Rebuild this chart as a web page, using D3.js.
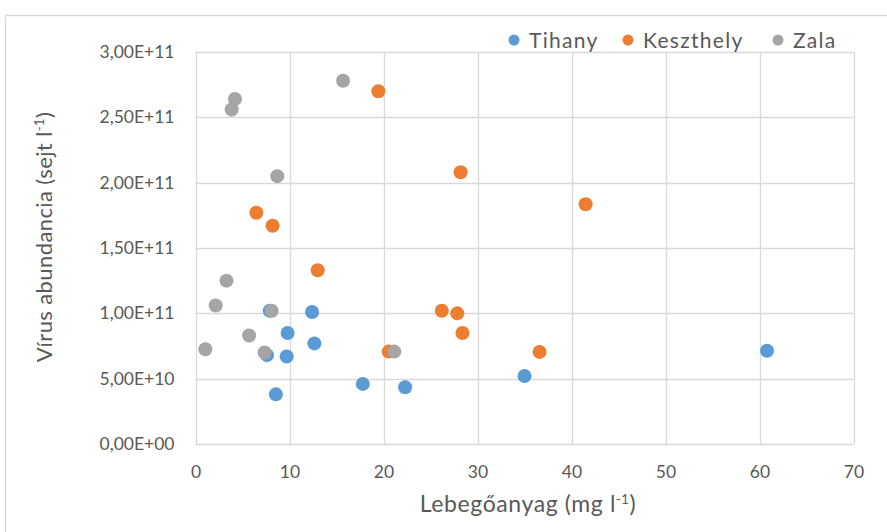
<!DOCTYPE html>
<html>
<head>
<meta charset="utf-8">
<script src="https://cdn.jsdelivr.net/npm/d3@7"></script>
<style>
  body { margin: 0; background: #fff; }
  svg text { font-family: Lato, "Open Sans", sans-serif; fill: #595959; }
</style>
</head>
<body>
<script>
// series names and colours
var seriesNames = ["Tihany", "Keszthely", "Zala"];
var seriesColors = ["#5B9BD5", "#ED7D31", "#A5A5A5"];
// lebegőanyag (mg/l) and virus abundance (sejt/l)
var tihanyX = [7.9, 12.4, 9.8, 12.65, 7.6, 9.7, 17.8, 22.3, 8.55, 35.0, 60.8];
var tihanyY = [1.02e11, 1.01e11, 0.85e11, 0.77e11, 0.68e11, 0.67e11, 0.46e11, 0.434e11, 0.38e11, 0.52e11, 0.714e11];
var keszthelyX = [19.45, 6.47, 8.2, 13.0, 20.55, 28.2, 41.5, 26.2, 27.85, 28.4, 36.6];
var keszthelyY = [2.70e11, 1.77e11, 1.67e11, 1.33e11, 0.707e11, 2.08e11, 1.835e11, 1.02e11, 1.0e11, 0.85e11, 0.705e11];
var zalaX = [4.2, 3.85, 15.7, 8.7, 3.3, 2.15, 8.1, 5.7, 1.05, 7.35, 21.15];
var zalaY = [2.64e11, 2.56e11, 2.78e11, 2.05e11, 1.25e11, 1.06e11, 1.02e11, 0.83e11, 0.725e11, 0.70e11, 0.707e11];
var xTicks = [0, 10, 20, 30, 40, 50, 60, 70];
var yTicks = [0, 0.5e11, 1.0e11, 1.5e11, 2.0e11, 2.5e11, 3.0e11];

var width = 887, height = 532;
var plot = { left: 195.5, right: 853.5, top: 52, bottom: 444 };

var svg = d3.select("body").append("svg")
    .attr("width", width)
    .attr("height", height);

// chart border
svg.append("rect")
    .attr("x", 5.5).attr("y", 15.5)
    .attr("width", 900).attr("height", 540)
    .attr("fill", "none")
    .attr("stroke", "#d9d9d9")
    .attr("stroke-width", 1.5);

var x = d3.scaleLinear().domain([0, 70]).range([plot.left, plot.right]);
var y = d3.scaleLinear().domain([0, 3e11]).range([plot.bottom, plot.top]);

// gridlines
svg.append("g").selectAll("line").data(xTicks).enter().append("line")
    .attr("x1", function (d) { return Math.round(x(d)) + 0.5; })
    .attr("x2", function (d) { return Math.round(x(d)) + 0.5; })
    .attr("y1", plot.top).attr("y2", plot.bottom)
    .attr("stroke", "#d9d9d9").attr("stroke-width", 1.3);
svg.append("g").selectAll("line").data(yTicks).enter().append("line")
    .attr("y1", function (d) { return Math.round(y(d)) + 0.5; })
    .attr("y2", function (d) { return Math.round(y(d)) + 0.5; })
    .attr("x1", plot.left).attr("x2", plot.right)
    .attr("stroke", "#d9d9d9").attr("stroke-width", 1.3);

// axes via d3 axis, with domain and ticks hidden
var fmtY = function (d) {
    if (d === 0) return "0,00E+00";
    var e = Math.floor(Math.log10(d));
    var m = d / Math.pow(10, e);
    return m.toFixed(2).replace(".", ",") + "E+" + (e < 10 ? "0" + e : e);
};
var yAxis = svg.append("g")
    .attr("transform", "translate(" + (plot.left - 21) + ",0)")
    .call(d3.axisLeft(y).tickValues(yTicks).tickFormat(fmtY).tickSize(0).tickPadding(0));
var xAxis = svg.append("g")
    .attr("transform", "translate(0," + (plot.bottom + 18) + ")")
    .call(d3.axisBottom(x).tickValues(xTicks).tickFormat(d3.format("d")).tickSize(0).tickPadding(0));
[yAxis, xAxis].forEach(function (a) {
    a.select(".domain").remove();
    a.selectAll("text").style("font-size", "17.5px").attr("fill", "#595959");
});
xAxis.selectAll("text").attr("dy", "0.9em");

// axis titles
var yTitle = svg.append("text")
    .attr("transform", "translate(52,237) rotate(-90)")
    .attr("text-anchor", "middle")
    .style("font-size", "22px")
    .style("letter-spacing", "0.4px");
yTitle.append("tspan").text("Vírus abundancia (sejt l");
yTitle.append("tspan").attr("baseline-shift", "super").style("font-size", "13px").text("-1");
yTitle.append("tspan").text(")");

var xTitle = svg.append("text")
    .attr("x", 528).attr("y", 512)
    .attr("text-anchor", "middle")
    .style("font-size", "23px")
    .style("letter-spacing", "0.6px");
xTitle.append("tspan").text("Lebegőanyag (mg l");
xTitle.append("tspan").attr("baseline-shift", "super").style("font-size", "13px").text("-1");
xTitle.append("tspan").text(")");

// points
var series = [
    { xs: tihanyX, ys: tihanyY },
    { xs: keszthelyX, ys: keszthelyY },
    { xs: zalaX, ys: zalaY }
];
series.forEach(function (s, si) {
    var pts = s.xs.map(function (v, i) { return [v, s.ys[i]]; });
    svg.append("g").selectAll("circle").data(pts).enter().append("circle")
        .attr("cx", function (d) { return x(d[0]); })
        .attr("cy", function (d) { return y(d[1]); })
        .attr("r", 7)
        .attr("fill", seriesColors[si]);
});

// legend
var legendX = [514, 628, 778];
var legend = svg.append("g").selectAll("g").data(seriesNames).enter().append("g")
    .attr("transform", function (d, i) { return "translate(" + legendX[i] + ",40)"; });
legend.append("circle").attr("r", 5.5).attr("fill", function (d, i) { return seriesColors[i]; });
legend.append("text")
    .attr("x", 15).attr("dy", "0.36em")
    .style("font-size", "21px")
    .style("letter-spacing", "1.3px")
    .text(function (d) { return d; });
</script>
</body>
</html>
